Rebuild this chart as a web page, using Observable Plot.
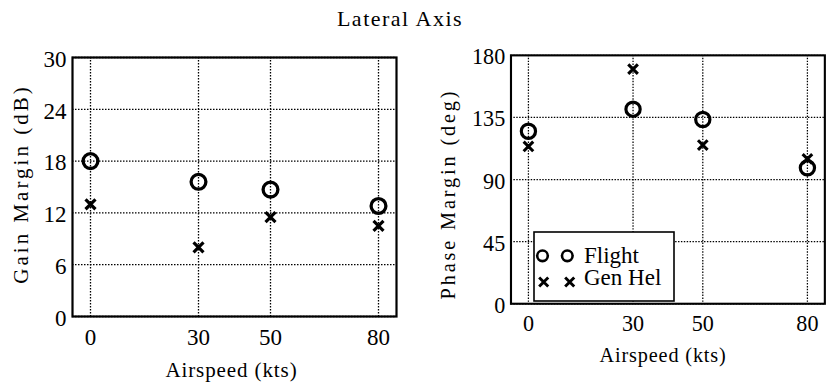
<!DOCTYPE html>
<html>
<head>
<meta charset="utf-8">
<script src="https://cdn.jsdelivr.net/npm/d3@7"></script>
<script src="https://cdn.jsdelivr.net/npm/@observablehq/plot@0.6"></script>
<style>
  html, body { margin: 0; padding: 0; background: #fff; overflow: hidden; width: 834px; height: 386px; }
  #fig { position: relative; width: 834px; height: 386px; overflow: hidden; font-family: "Liberation Serif", "Times New Roman", serif; color: #000; }
  #title { position: absolute; left: 0; width: 800px; top: 8px; text-align: center; font-size: 22px; line-height: 22px; letter-spacing: 1.5px; }
  .panel { position: absolute; top: 0; }
  #legend { position: absolute; left: 533px; top: 231px; }
  svg text { font-family: "Liberation Serif", "Times New Roman", serif; }
</style>
</head>
<body>
<div id="fig">
  <div id="title">Lateral Axis</div>
  <div id="left" class="panel" style="left:0px"></div>
  <div id="right" class="panel" style="left:420px"></div>
  <svg id="legend" width="142" height="72"></svg>
</div>
<script>
// Airspeed test points (kts)
const airspeed = [0, 30, 50, 80];

// Lateral-axis gain margin (dB)
const gainFlight = [18, 15.6, 14.7, 12.8];
const gainGenHel = [13, 8, 11.5, 10.5];

// Lateral-axis phase margin (deg)
const phaseFlight = [125, 141, 133.5, 98.5];
const phaseGenHel = [114, 170, 115, 105];

// Tick values
const speedTicks = [0, 30, 50, 80];
const gainTicks = [0, 6, 12, 18, 24, 30];
const phaseTicks = [0, 45, 90, 135, 180];

const seriesNames = ["Flight", "Gen Hel"];
const xLabel = "Airspeed (kts)";

const serif = '"Liberation Serif", "Times New Roman", serif';
const dotted = {stroke: "#000", strokeWidth: 1.3, strokeDasharray: "1.5,1.5"};

function panel(o) {
  const rows = airspeed.map((s, i) => ({s, flight: o.flight[i], genhel: o.genhel[i]}));
  const svg = Plot.plot({
    width: o.width,
    height: 386,
    marginLeft: o.marginLeft,
    marginRight: o.marginRight,
    marginTop: 57,
    marginBottom: o.marginBottom,
    x: {domain: [-5, 85], axis: null},
    y: {domain: o.yDomain, axis: null},
    style: {fontFamily: serif, fontSize: "22px", color: "#000", background: "transparent"},
    marks: [
      Plot.ruleX(speedTicks, dotted),
      Plot.ruleY(o.yTicks, dotted),
      Plot.frame({stroke: "#000", strokeWidth: 2.2}),
      // tick labels
      Plot.text(o.yTicks, {y: d => d, text: d => String(d), frameAnchor: "left", dx: -6, dy: 2, textAnchor: "end", lineAnchor: "middle", fontSize: 23, fill: "#000"}),
      Plot.text(speedTicks, {x: d => d, text: d => String(d), frameAnchor: "bottom", dy: 12, lineAnchor: "top", fontSize: 23, fill: "#000"}),
      // axis titles
      Plot.text([xLabel], {text: d => d, frameAnchor: "bottom", dx: o.xLabelDx, dy: 53.3, textAnchor: "middle", lineAnchor: "middle", fontSize: 21, fill: "#000"}),
      Plot.text([o.yLabel], {text: d => d, frameAnchor: "left", rotate: -90, dx: o.yLabelDx, dy: o.yLabelDy, textAnchor: "middle", lineAnchor: "middle", fontSize: 21, fill: "#000"}),
      // data
      Plot.dot(rows, {x: "s", y: "flight", r: 7.4, stroke: "#000", strokeWidth: 3.3, fill: "none"}),
      Plot.dot(rows, {x: "s", y: "genhel", symbol: "times", r: 4.6, stroke: "#000", strokeWidth: 3.2})
    ]
  });
  d3.select(svg).selectAll("text").each(function() {
    const t = this.textContent;
    if (t === xLabel) d3.select(this).style("letter-spacing", "0.9px");
    if (t === o.yLabel) d3.select(this).style("letter-spacing", "3px");
  });
  return svg;
}

document.getElementById("left").appendChild(panel({
  flight: gainFlight, genhel: gainGenHel,
  yDomain: [0, 30], yTicks: gainTicks, yLabel: "Gain Margin (dB)",
  width: 410, marginLeft: 72, marginRight: 14, marginBottom: 70,
  xLabelDx: -3, yLabelDx: -51, yLabelDy: -3
}));

document.getElementById("right").appendChild(panel({
  flight: phaseFlight, genhel: phaseGenHel,
  yDomain: [0, 180], yTicks: phaseTicks, yLabel: "Phase Margin (deg)",
  width: 430, marginLeft: 94, marginRight: 10, marginBottom: 71,
  xLabelDx: -5, yLabelDx: -65, yLabelDy: 15
}));

// Legend box inside the phase-margin panel
const lg = d3.select("#legend");
lg.append("rect")
  .attr("x", 1).attr("y", 1).attr("width", 140).attr("height", 69)
  .attr("fill", "#fff").attr("stroke", "#000").attr("stroke-width", 1.6);
const legendSymbols = [
  {shape: d3.symbolCircle, size: Math.PI * 5.3 * 5.3, width: 2.6, y: 24.8, textY: 32.3},
  {shape: d3.symbolTimes, size: Math.PI * 4.2 * 4.2, width: 2.9, y: 51, textY: 54}
];
seriesNames.forEach((name, i) => {
  const s = legendSymbols[i];
  const path = d3.symbol(s.shape, s.size)();
  [i === 0 ? 9.5 : 10.7, i === 0 ? 34.3 : 36.7].forEach(cx => {
    lg.append("path").attr("d", path)
      .attr("transform", `translate(${cx},${s.y})`)
      .attr("fill", "none").attr("stroke", "#000").attr("stroke-width", s.width);
  });
  lg.append("text").attr("x", 51).attr("y", s.textY)
    .style("font-family", serif).attr("font-size", 23).attr("fill", "#000")
    .text(name);
});
</script>
</body>
</html>
